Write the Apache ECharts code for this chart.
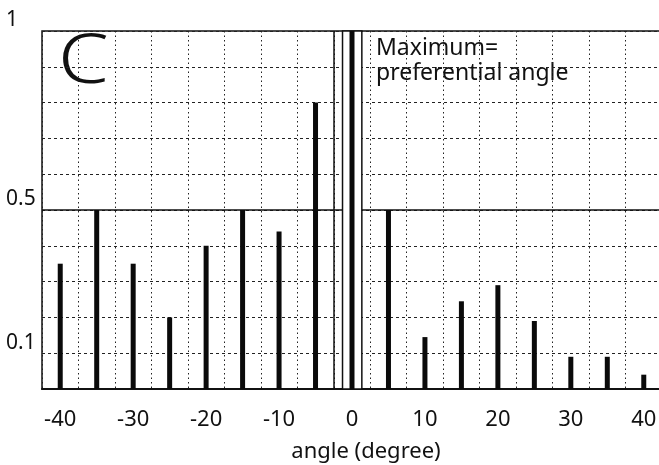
<!DOCTYPE html>
<html>
<head>
<meta charset="utf-8">
<script src="https://cdn.jsdelivr.net/npm/echarts@6/dist/echarts.min.js"></script>
<style>
  html, body { margin: 0; padding: 0; background: #fff; }
  #chart { width: 659px; height: 465px; }
</style>
</head>
<body>
<div id="chart"></div>
<script>
// angles (degree) and relative response
var angles = [-40, -35, -30, -25, -20, -15, -10, -5, 0, 5, 10, 15, 20, 25, 30, 35, 40];
var values = [0.35, 0.5, 0.35, 0.2, 0.4, 0.5, 0.44, 0.8, 1.0, 0.5, 0.145, 0.245, 0.29, 0.19, 0.09, 0.09, 0.04];
var xTickLabels = [-40, -30, -20, -10, 0, 10, 20, 30, 40];
var yTickLabels = [0.1, 0.5, 1];
// box around the maximum (degree)
var boxFrom = -1.3, boxTo = 1.35;

var font = "'Noto Sans', sans-serif";
var chart = echarts.init(document.getElementById('chart'));

chart.setOption({
  animation: false,
  backgroundColor: '#fff',
  grid: {
    left: 42, right: -3, top: 31, bottom: 76,
    outerBoundsMode: 'none',
    show: true, borderColor: '#111', borderWidth: 1.5
  },
  xAxis: {
    type: 'value',
    min: -42.5, max: 42.5, interval: 5,
    name: 'angle (degree)',
    nameLocation: 'middle',
    nameGap: 52,
    nameTextStyle: { fontFamily: font, fontSize: 22, color: '#111', padding: [0, 0, 0, 28] },
    axisLine: { show: true, lineStyle: { color: '#111', width: 2 } },
    axisTick: { show: false },
    axisLabel: {
      customValues: xTickLabels,
      fontFamily: font, fontSize: 22, color: '#111', margin: 20
    },
    splitLine: { show: true, lineStyle: { color: '#222', width: 1, type: [1.5, 3] } }
  },
  yAxis: {
    type: 'value',
    min: 0, max: 1, interval: 0.1,
    axisLine: { show: false },
    axisTick: { show: false },
    axisLabel: {
      customValues: yTickLabels,
      fontFamily: font, fontSize: 21, color: '#111',
      align: 'left', margin: 36, verticalAlign: 'bottom'
    },
    splitLine: { show: true, lineStyle: { color: '#222', width: 1, type: [3, 3] } }
  },
  series: [
    {
      // white box around the maximum
      type: 'line', data: [], z: 3,
      markArea: {
        silent: true,
        itemStyle: { color: '#fff', borderColor: '#111', borderWidth: 1.5 },
        data: [[{ coord: [boxFrom, 0] }, { coord: [boxTo, 1] }]]
      }
    },
    {
      // solid reference lines at 0.5 (broken by the box) and -2.5
      type: 'line', data: [], z: 4,
      markLine: {
        silent: true, symbol: 'none', label: { show: false },
        lineStyle: { color: '#111', width: 1.5, type: 'solid' },
        data: [
          [{ coord: [-42.5, 0.5] }, { coord: [boxFrom, 0.5] }],
          [{ coord: [boxTo, 0.5] }, { coord: [42.5, 0.5] }],
          { xAxis: -2.5 }
        ]
      }
    },
    {
      type: 'bar', z: 5,
      barWidth: 5,
      itemStyle: { color: '#0a0a0a' },
      data: angles.map(function (a, i) { return [a, values[i]]; })
    }
  ],
  graphic: [
    {
      type: 'text', left: 58, top: 30, scaleX: 1.2,
      style: { text: 'C', fontFamily: font, fontSize: 68, fontWeight: 300, fill: '#111' }
    },
    {
      type: 'text', left: 376, top: 36,
      style: {
        text: 'Maximum=\npreferential angle',
        fontFamily: font, fontSize: 23, lineHeight: 25, fill: '#111'
      }
    }
  ]
});
</script>
</body>
</html>
